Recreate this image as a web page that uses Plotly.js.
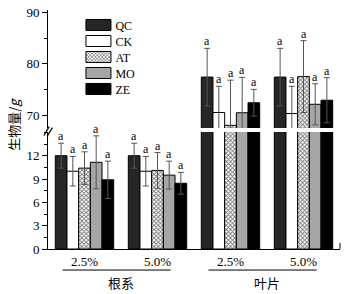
<!DOCTYPE html>
<html>
<head>
<meta charset="utf-8">
<script src="https://cdn.plot.ly/plotly-3.0.1.min.js"></script>
<style>html,body{margin:0;padding:0;background:#fff;}#chart{width:352px;height:294px;}</style>
</head>
<body>
<div id="chart"></div>
<script>
// ---- data ----
var doses = ['2.5%', '5.0%', '2.5%', '5.0%'];
var organs = ['根系', '叶片'];
var seriesNames = ['QC', 'CK', 'AT', 'MO', 'ZE'];
var QC = [12.0, 12.0, 77.4, 77.4];
var CK = [10.0, 10.0, 70.5, 70.3];
var AT = [10.4, 10.1, 68.0, 77.5];
var MO = [11.15, 9.5, 70.45, 72.1];
var ZE = [8.9, 8.45, 72.4, 72.9];
var QC_err = [1.6, 1.6, 5.6, 5.6];
var CK_err = [1.9, 1.9, 5.1, 5.3];
var AT_err = [2.1, 2.3, 8.8, 7.0];
var MO_err = [3.4, 1.8, 6.9, 4.0];
var ZE_err = [2.4, 1.4, 2.6, 4.4];
var sigLabels = ['a', 'a', 'a', 'a', 'a'];

var values = [QC, CK, AT, MO, ZE];
var errors = [QC_err, CK_err, AT_err, MO_err, ZE_err];
var xs = [0, 1, 2, 3];

var styles = [
  {color: '#262626'},
  {color: '#ffffff'},
  {color: '#ffffff', pattern: {shape: 'x', size: 3, solidity: 0.5, fgcolor: '#777', bgcolor: '#ffffff'}},
  {color: '#a6a6a6'},
  {color: '#000000'}
];

var serif = 'Liberation Serif, Times New Roman, Noto Sans CJK SC, serif';
var data = [];
['y', 'y2'].forEach(function (ya, k) {
  seriesNames.forEach(function (name, j) {
    var m = {color: styles[j].color, line: {color: '#000', width: 1}};
    if (styles[j].pattern) m.pattern = styles[j].pattern;
    data.push({
      type: 'bar', name: name, x: xs, y: values[j],
      xaxis: 'x', yaxis: ya, marker: m,
      showlegend: k === 0, legendgroup: name,
      error_y: {type: 'data', array: errors[j], visible: true, color: '#555', thickness: 1, width: 3}
    });
  });
});

var annotations = [];
seriesNames.forEach(function (name, j) {
  xs.forEach(function (x, g) {
    annotations.push({
      x: x + (j - 2) * 0.16, y: values[j][g] + errors[j][g],
      xref: 'x', yref: g < 2 ? 'y' : 'y2',
      text: sigLabels[j], showarrow: false, xanchor: 'center', yanchor: 'bottom', yshift: -2,
      font: {family: serif, size: 12, color: '#000'}
    });
  });
});
var shapes = [];
organs.forEach(function (o, i) {
  var c = i * 2 + 0.5;
  annotations.push({x: c, y: -0.142, xref: 'x', yref: 'paper', xanchor: 'center', yanchor: 'middle',
    text: o, showarrow: false,
    font: {family: 'Noto Sans CJK SC, serif', size: 13, color: '#000'}});
  shapes.push({type: 'line', xref: 'x', yref: 'paper', x0: i * 2 - 0.3, x1: i * 2 + 1.18, y0: -0.088, y1: -0.088,
    line: {color: '#000', width: 1}});
});
annotations.push({x: -0.116, y: 0.52, xref: 'paper', yref: 'paper', xanchor: 'center', yanchor: 'middle',
  text: '生物量/<i>g</i>', textangle: -90,
  showarrow: false, font: {family: 'Noto Sans CJK SC, serif', size: 13, color: '#000'}});
// axis break marks
shapes.push({type: 'line', xref: 'paper', yref: 'paper', x0: -0.014, y0: 0.475, x1: 0.004, y1: 0.512, line: {color: '#000', width: 1.2}});
shapes.push({type: 'line', xref: 'paper', yref: 'paper', x0: -0.003, y0: 0.471, x1: 0.015, y1: 0.508, line: {color: '#000', width: 1.2}});
// right end tick
shapes.push({type: 'line', xref: 'paper', yref: 'paper', x0: 1, x1: 1, y0: 0, y1: 0.025, line: {color: '#000', width: 1}});

var axFont = {family: serif, size: 13, color: '#000'};
var layout = {
  width: 352, height: 294,
  margin: {l: 48, r: 12, t: 10, b: 45},
  paper_bgcolor: '#fff', plot_bgcolor: 'rgba(0,0,0,0)',
  barmode: 'group', bargap: 0.2, bargroupgap: 0,
  showlegend: true,
  legend: {x: 0.094, y: 0.998, xanchor: 'left', yanchor: 'top', bgcolor: 'rgba(0,0,0,0)',
    font: {family: serif, size: 12, color: '#000'}, tracegroupgap: 0},
  xaxis: {range: [-0.5, 3.5], tickmode: 'array', tickvals: xs, ticktext: doses, ticks: '',
    showline: true, linecolor: '#000', linewidth: 1, showgrid: false, zeroline: false,
    tickfont: axFont, anchor: 'y'},
  yaxis: {domain: [0, 0.49], range: [0, 15.06], tickmode: 'array', tickvals: [0, 3, 6, 9, 12],
    ticks: 'outside', ticklen: 5, tickcolor: '#000', showline: true, linecolor: '#000', linewidth: 1,
    showgrid: false, zeroline: false, tickfont: axFont, anchor: 'x',
    minor: {tickmode: 'linear', tick0: 0, dtick: 1.5, ticks: 'outside', ticklen: 3, tickcolor: '#000'}},
  yaxis2: {domain: [0.506, 1], range: [67.47, 90.47], tickmode: 'array', tickvals: [70, 80, 90],
    ticks: 'outside', ticklen: 5, tickcolor: '#000', showline: true, linecolor: '#000', linewidth: 1,
    showgrid: false, zeroline: false, tickfont: axFont, anchor: 'x',
    minor: {tickmode: 'linear', tick0: 70, dtick: 5, ticks: 'outside', ticklen: 3, tickcolor: '#000'}},
  annotations: annotations,
  shapes: shapes
};

var gd = document.getElementById('chart');
Plotly.newPlot(gd, data, layout, {staticPlot: true, displayModeBar: false}).then(function () {
  var items = gd.querySelectorAll('.legend .traces');
  var first = null;
  items.forEach(function (it, i) {
    var t = it.getAttribute('transform') || '';
    var m = /translate\(([-\d.]+)[ ,]+([-\d.]+)\)/.exec(t);
    if (m) {
      if (first === null) first = [parseFloat(m[1]), parseFloat(m[2])];
      it.setAttribute('transform', 'translate(' + first[0] + ',' + (first[1] + i * 16) + ')');
    }
    var p = it.querySelector('.legendpoints path');
    if (p) p.setAttribute('d', 'M-9.5,5.5h25v-11h-25z');
  });
});
</script>
</body>
</html>
